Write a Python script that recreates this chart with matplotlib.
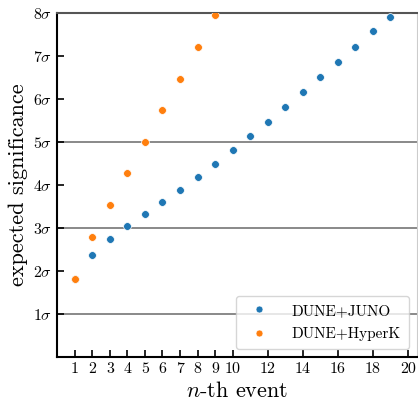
import matplotlib
matplotlib.use("Agg")
import matplotlib.pyplot as plt
import numpy as np

plt.rcParams['font.family'] = 'serif'
plt.rcParams['font.serif'] = ['cmr10']
plt.rcParams['mathtext.fontset'] = 'cm'
plt.rcParams['axes.unicode_minus'] = False

# expected significance (in sigma) after the n-th event
n_juno = list(range(1, 20))
sig_juno = [1.81, 2.37, 2.74, 3.05, 3.33, 3.60, 3.88, 4.18, 4.49, 4.81,
            5.14, 5.47, 5.82, 6.17, 6.52, 6.87, 7.22, 7.57, 7.91]

n_hyperk = list(range(1, 10))
sig_hyperk = [1.81, 2.80, 3.54, 4.28, 5.00, 5.74, 6.47, 7.22, 7.95]

xticks = [1, 2, 3, 4, 5, 6, 7, 8, 9, 10, 12, 14, 16, 18, 20]
yticks = [1, 2, 3, 4, 5, 6, 7, 8]
sigma_lines = [1, 3, 5, 8]

fig = plt.figure(figsize=(4.18, 4.0), dpi=100)
ax = fig.add_axes([0.137, 0.1075, 0.86, 0.86])

for s in sigma_lines:
    ax.axhline(s, color='gray', lw=1.3, zorder=1)

ax.plot(n_juno, sig_juno, 'o', ms=5.6, mec='white', mew=0.5,
        color='tab:blue', label='DUNE+JUNO', zorder=3)
ax.plot(n_hyperk, sig_hyperk, 'o', ms=5.6, mec='white', mew=0.5,
        color='tab:orange', label='DUNE+HyperK', zorder=4)

ax.set_xlim(0, 20.5)
ax.set_ylim(0, 8)
ax.set_xticks(xticks)
ax.set_yticks(yticks)
ax.set_yticklabels([r'$%d\sigma$' % v for v in yticks])
ax.tick_params(direction='in', length=5, width=1.2, labelsize=11.5)

ax.set_xlabel(r'$n$-th event', fontsize=16)
ax.set_ylabel('expected significance', fontsize=16)

ax.spines['left'].set_linewidth(1.5)
ax.spines['bottom'].set_linewidth(1.5)
ax.spines['top'].set_color('#555555')
ax.spines['top'].set_linewidth(1.5)
ax.spines['right'].set_color('#cccccc')

ax.legend(loc='lower right', fontsize=11, handletextpad=1.1, borderpad=0.55,
          labelspacing=0.6, markerscale=0.9)

fig.savefig('out.png', dpi=100)
